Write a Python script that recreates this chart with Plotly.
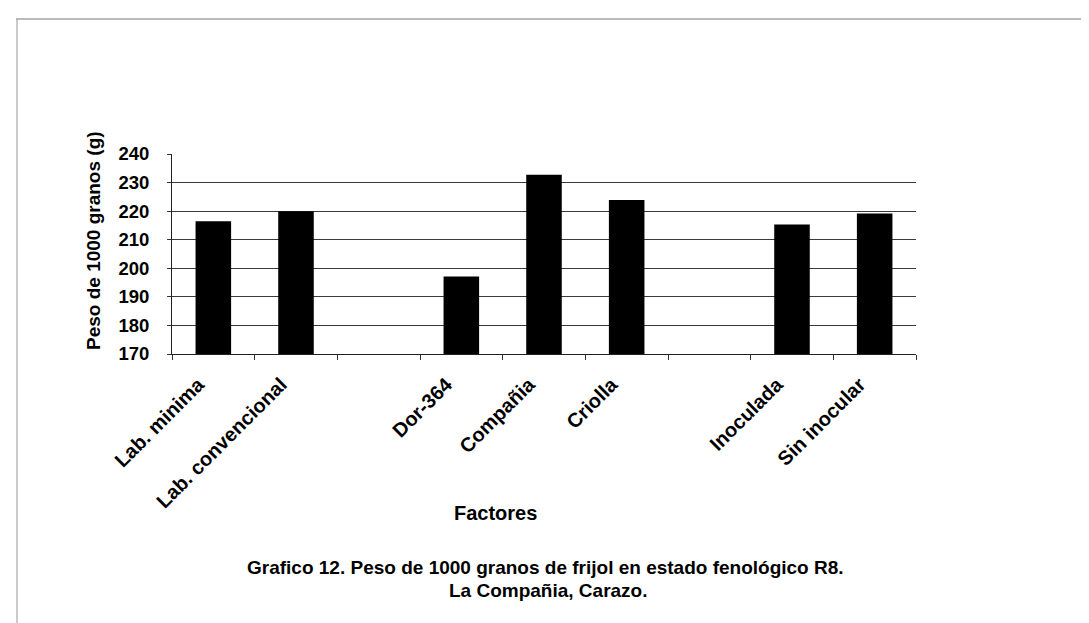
import plotly.graph_objects as go

categories = ["Lab. minima", "Lab. convencional", " ", "Dor-364", "Compañia",
              "Criolla", "  ", "Inoculada", "Sin inocular"]
values = [216.5, 220.0, None, 197.1, 232.7, 223.9, None, 215.3, 219.2]
y_ticks = [170, 180, 190, 200, 210, 220, 230, 240]

W, H = 1089, 623
L, R, T, B = 164, 908, 146, 346

FONT = "Liberation Sans, Arial, sans-serif"

fig = go.Figure()
fig.add_trace(go.Bar(
    x=categories, y=values,
    marker=dict(color="#000000", line=dict(width=0)),
    width=0.43,
))

def px(x):
    return (x - L) / (R - L)

def py(y):
    return (B - y) / (B - T)

fig.update_layout(
    width=W, height=H,
    margin=dict(l=L, r=W - R, t=T, b=H - B, pad=0),
    paper_bgcolor="white", plot_bgcolor="white",
    showlegend=False,
    font=dict(family=FONT, color="black"),
    xaxis=dict(
        type="category",
        categoryorder="array", categoryarray=categories,
        tickson="boundaries",
        ticks="outside", ticklen=5, tickcolor="#333", tickwidth=1,
        tickangle=-45,
        tickfont=dict(family=FONT, size=20, color="black", weight="bold"),
        ticklabelstandoff=10,
        ticklabelshift=-15,
        showline=True, linecolor="#222", linewidth=1,
        showgrid=False, zeroline=False,
        range=[-0.5, 8.5],
    ),
    yaxis=dict(
        range=[170, 240],
        tickvals=y_ticks,
        ticks="outside", ticklen=4, tickcolor="#333",
        tickfont=dict(family=FONT, size=18.5, color="black", weight="bold"),
        ticklabelstandoff=14,
        showline=True, linecolor="#222", linewidth=1,
        showgrid=True, gridcolor="#3a3a3a", gridwidth=1,
        zeroline=False,
    ),
    annotations=[
        dict(text="<b>Peso de 1000 granos (g)</b>", x=px(85), y=py(233),
             xref="paper", yref="paper", textangle=-90, showarrow=False,
             font=dict(family=FONT, size=19, color="black"),
             xanchor="center", yanchor="middle"),
        dict(text="<b>Factores</b>", x=px(487), y=py(505),
             xref="paper", yref="paper", showarrow=False,
             font=dict(family=FONT, size=20, color="black"),
             xanchor="center", yanchor="middle"),
        dict(text="<b>Grafico 12. Peso de 1000 granos de frijol en estado fenológico R8.</b>",
             x=px(537), y=py(559), xref="paper", yref="paper", showarrow=False,
             font=dict(family=FONT, size=19, color="black"),
             xanchor="center", yanchor="middle"),
        dict(text="<b>La Compañia, Carazo.</b>",
             x=px(540), y=py(582), xref="paper", yref="paper", showarrow=False,
             font=dict(family=FONT, size=19, color="black"),
             xanchor="center", yanchor="middle"),
    ],
    shapes=[
        dict(type="line", xref="paper", yref="paper",
             x0=px(8), x1=px(1089), y0=py(11), y1=py(11),
             line=dict(color="#777", width=1)),
        dict(type="line", xref="paper", yref="paper",
             x0=px(9), x1=px(9), y0=py(11), y1=py(623),
             line=dict(color="#999", width=1)),
    ],
)

fig.write_html("out.html")
